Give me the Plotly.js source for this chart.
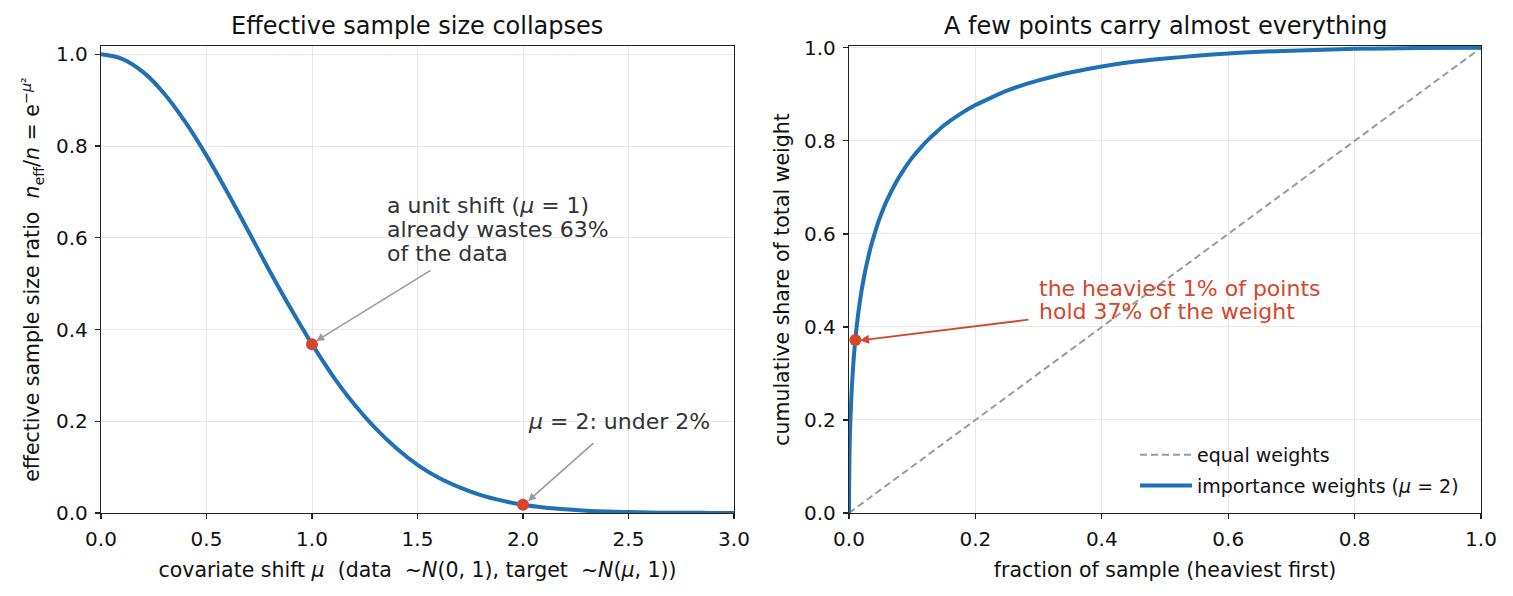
<!DOCTYPE html>
<html>
<head>
<meta charset="utf-8">
<script src="https://cdn.plot.ly/plotly-3.0.1.min.js"></script>
<style>html,body{margin:0;padding:0;background:#fff;}</style>
</head>
<body>
<div id="chart" style="width:1513px;height:596px;"></div>
<script>
// Left panel: effective sample size ratio vs covariate shift
const shiftMu = [0,0.1,0.2,0.3,0.4,0.5,0.6,0.7,0.8,0.9,1.0,1.1,1.2,1.3,1.4,1.5,1.6,1.7,1.8,1.9,2.0,2.1,2.2,2.3,2.4,2.5,2.6,2.7,2.8,2.9,3.0];
const essRatio = [1.0,0.990,0.961,0.914,0.852,0.779,0.698,0.613,0.527,0.445,0.368,0.298,0.237,0.185,0.141,0.105,0.077,0.056,0.039,0.027,0.018,0.012,0.008,0.005,0.003,0.002,0.001,0.0007,0.0004,0.0002,0.0001];
const highlightMu = [1.0, 2.0];
const highlightEss = [0.368, 0.018];

// Right panel: cumulative share of total weight (heaviest first)
const sampleFrac = [0,0.0001,0.0003,0.0005,0.001,0.0015,0.002,0.003,0.004,0.005,0.0075,0.01,0.0125,0.015,0.02,0.025,0.03,0.035,0.04,0.045,0.05,0.06,0.075,0.0875,0.1,0.1125,0.125,0.1375,0.15,0.175,0.2,0.225,0.25,0.275,0.3,0.325,0.35,0.4,0.45,0.5,0.55,0.6,0.65,0.7,0.75,0.8,0.9,1.0];
const weightShare = [0,0.043,0.076,0.098,0.138,0.167,0.190,0.227,0.257,0.282,0.333,0.372,0.405,0.433,0.479,0.516,0.547,0.575,0.598,0.620,0.639,0.672,0.712,0.740,0.764,0.784,0.802,0.818,0.833,0.857,0.877,0.893,0.908,0.920,0.930,0.939,0.947,0.960,0.970,0.977,0.983,0.988,0.9915,0.994,0.996,0.998,0.9995,1.0];
const equalFrac = [0, 1];
const equalShare = [0, 1];
const heavyFrac = [0.01];
const heavyShare = [0.372];

// Annotation text lines
const unitShiftLines = ['a unit shift (<i>μ</i> = 1)', 'already wastes 63%', 'of the data'];
const heavyLines = ['the heaviest 1% of points', 'hold 37% of the weight'];

const BLUE = '#2070b4';
const RED = '#d5472b';
const GRAY = '#9b9b9b';
const FONT = 'DejaVu Sans, sans-serif';

const traces = [
  {x: shiftMu, y: essRatio, mode: 'lines', line: {color: BLUE, width: 4, shape: 'spline'}, xaxis: 'x', yaxis: 'y', showlegend: false, hoverinfo: 'skip'},
  {x: highlightMu, y: highlightEss, mode: 'markers', marker: {color: RED, size: 12}, xaxis: 'x', yaxis: 'y', showlegend: false},
  {x: equalFrac, y: equalShare, mode: 'lines', name: 'equal weights', legendgroup: 'a', line: {color: GRAY, width: 2, dash: '7px,4px'}, xaxis: 'x2', yaxis: 'y2'},
  {x: sampleFrac, y: weightShare, mode: 'lines', name: 'importance weights (<i>μ</i> = 2)', legendgroup: 'b', line: {color: BLUE, width: 4, shape: 'spline', smoothing: 0.6}, xaxis: 'x2', yaxis: 'y2'},
  {x: heavyFrac, y: heavyShare, mode: 'markers', marker: {color: RED, size: 12}, xaxis: 'x2', yaxis: 'y2', showlegend: false}
];

const axisCommon = {
  showline: true, mirror: true, linecolor: '#222', linewidth: 1.2,
  ticks: 'outside', ticklen: 5, tickwidth: 1.2, tickcolor: '#222',
  showgrid: true, gridcolor: '#e8e8e8', gridwidth: 1, zeroline: false,
  tickfont: {family: FONT, size: 20, color: '#111'}, automargin: false, ticklabelstandoff: 3
};
const TITLEFONT = {family: FONT, size: 20.5, color: '#111'};
const ANNFONT = {family: FONT, size: 22, color: '#333'};
const REDFONT = {family: FONT, size: 22, color: RED};

const unitShiftY = [0.670, 0.618, 0.5655];
const heavyY = [0.4828, 0.4335];

const annotations = [
  {text: 'Effective sample size collapses', xref: 'paper', yref: 'paper', x: 417.5/1513, y: 1-26/596, xanchor: 'center', yanchor: 'middle', showarrow: false, font: {family: FONT, size: 24, color: '#111'}},
  {text: 'A few points carry almost everything', xref: 'paper', yref: 'paper', x: 1165/1513, y: 1-26/596, xanchor: 'center', yanchor: 'middle', showarrow: false, font: {family: FONT, size: 24, color: '#111'}},
  {xref: 'x', yref: 'y', axref: 'x', ayref: 'y', x: 1.02, y: 0.375, ax: 1.569, ay: 0.531, text: '', showarrow: true, arrowhead: 2, arrowsize: 1, arrowwidth: 1.6, arrowcolor: GRAY},
  {xref: 'x', yref: 'y', axref: 'x', ayref: 'y', x: 2.024, y: 0.026, ax: 2.341, ay: 0.155, text: '', showarrow: true, arrowhead: 2, arrowsize: 1, arrowwidth: 1.6, arrowcolor: GRAY},
  {xref: 'x2', yref: 'y2', axref: 'x2', ayref: 'y2', x: 0.0174, y: 0.371, ax: 0.2864, ay: 0.416, text: '', showarrow: true, arrowhead: 2, arrowsize: 1, arrowwidth: 1.8, arrowcolor: RED},
  {xref: 'x', yref: 'y', x: 2.015, y: 0.199, xanchor: 'left', yanchor: 'middle', align: 'left', showarrow: false, text: '<i>μ</i> = 2: under 2%', font: ANNFONT}
];
unitShiftLines.forEach((t, i) => annotations.push({xref: 'x', yref: 'y', x: 1.345, y: unitShiftY[i], xanchor: 'left', yanchor: 'middle', align: 'left', showarrow: false, text: t, font: ANNFONT}));
heavyLines.forEach((t, i) => annotations.push({xref: 'x2', yref: 'y2', x: 0.298, y: heavyY[i], xanchor: 'left', yanchor: 'middle', align: 'left', showarrow: false, text: t, font: REDFONT}));

const layout = {
  width: 1513, height: 596,
  margin: {l: 0, r: 0, t: 0, b: 0},
  paper_bgcolor: '#fff', plot_bgcolor: '#fff',
  font: {family: FONT, color: '#111'},
  xaxis: Object.assign({}, axisCommon, {domain: [101/1513, 734/1513], range: [0, 3], dtick: 0.5, tickformat: '.1f',
    title: {text: 'covariate shift <i>μ</i>\u00a0 (data \u00a0~<i>N</i>(0, 1), target \u00a0~<i>N</i>(<i>μ</i>, 1))', font: TITLEFONT, standoff: 12}}),
  yaxis: Object.assign({}, axisCommon, {domain: [1-513/596, 1-46/596], range: [0, 1.018], dtick: 0.2, tickformat: '.1f',
    title: {text: 'effective sample size ratio\u00a0 <i>n</i><sub>eff</sub>/<i>n</i> = e<sup>−<i>μ</i>²</sup>', font: TITLEFONT, standoff: 10}}),
  xaxis2: Object.assign({}, axisCommon, {domain: [849/1513, 1481/1513], range: [0, 1], dtick: 0.2, tickformat: '.1f', anchor: 'y2',
    title: {text: 'fraction of sample (heaviest first)', font: TITLEFONT, standoff: 12}}),
  yaxis2: Object.assign({}, axisCommon, {domain: [1-513/596, 1-46/596], range: [0, 1.004], dtick: 0.2, tickformat: '.1f', anchor: 'x2',
    title: {text: 'cumulative share of total weight', font: TITLEFONT, standoff: 8}}),
  legend: {x: 1135/1513, y: 1-436/596, xanchor: 'left', yanchor: 'top', bgcolor: 'rgba(255,255,255,0)',
    font: {family: FONT, size: 19, color: '#111'}, traceorder: 'grouped', tracegroupgap: 3, itemwidth: 52},
  annotations: annotations
};

Plotly.newPlot('chart', traces, layout, {displayModeBar: false, staticPlot: true});
</script>
</body>
</html>
